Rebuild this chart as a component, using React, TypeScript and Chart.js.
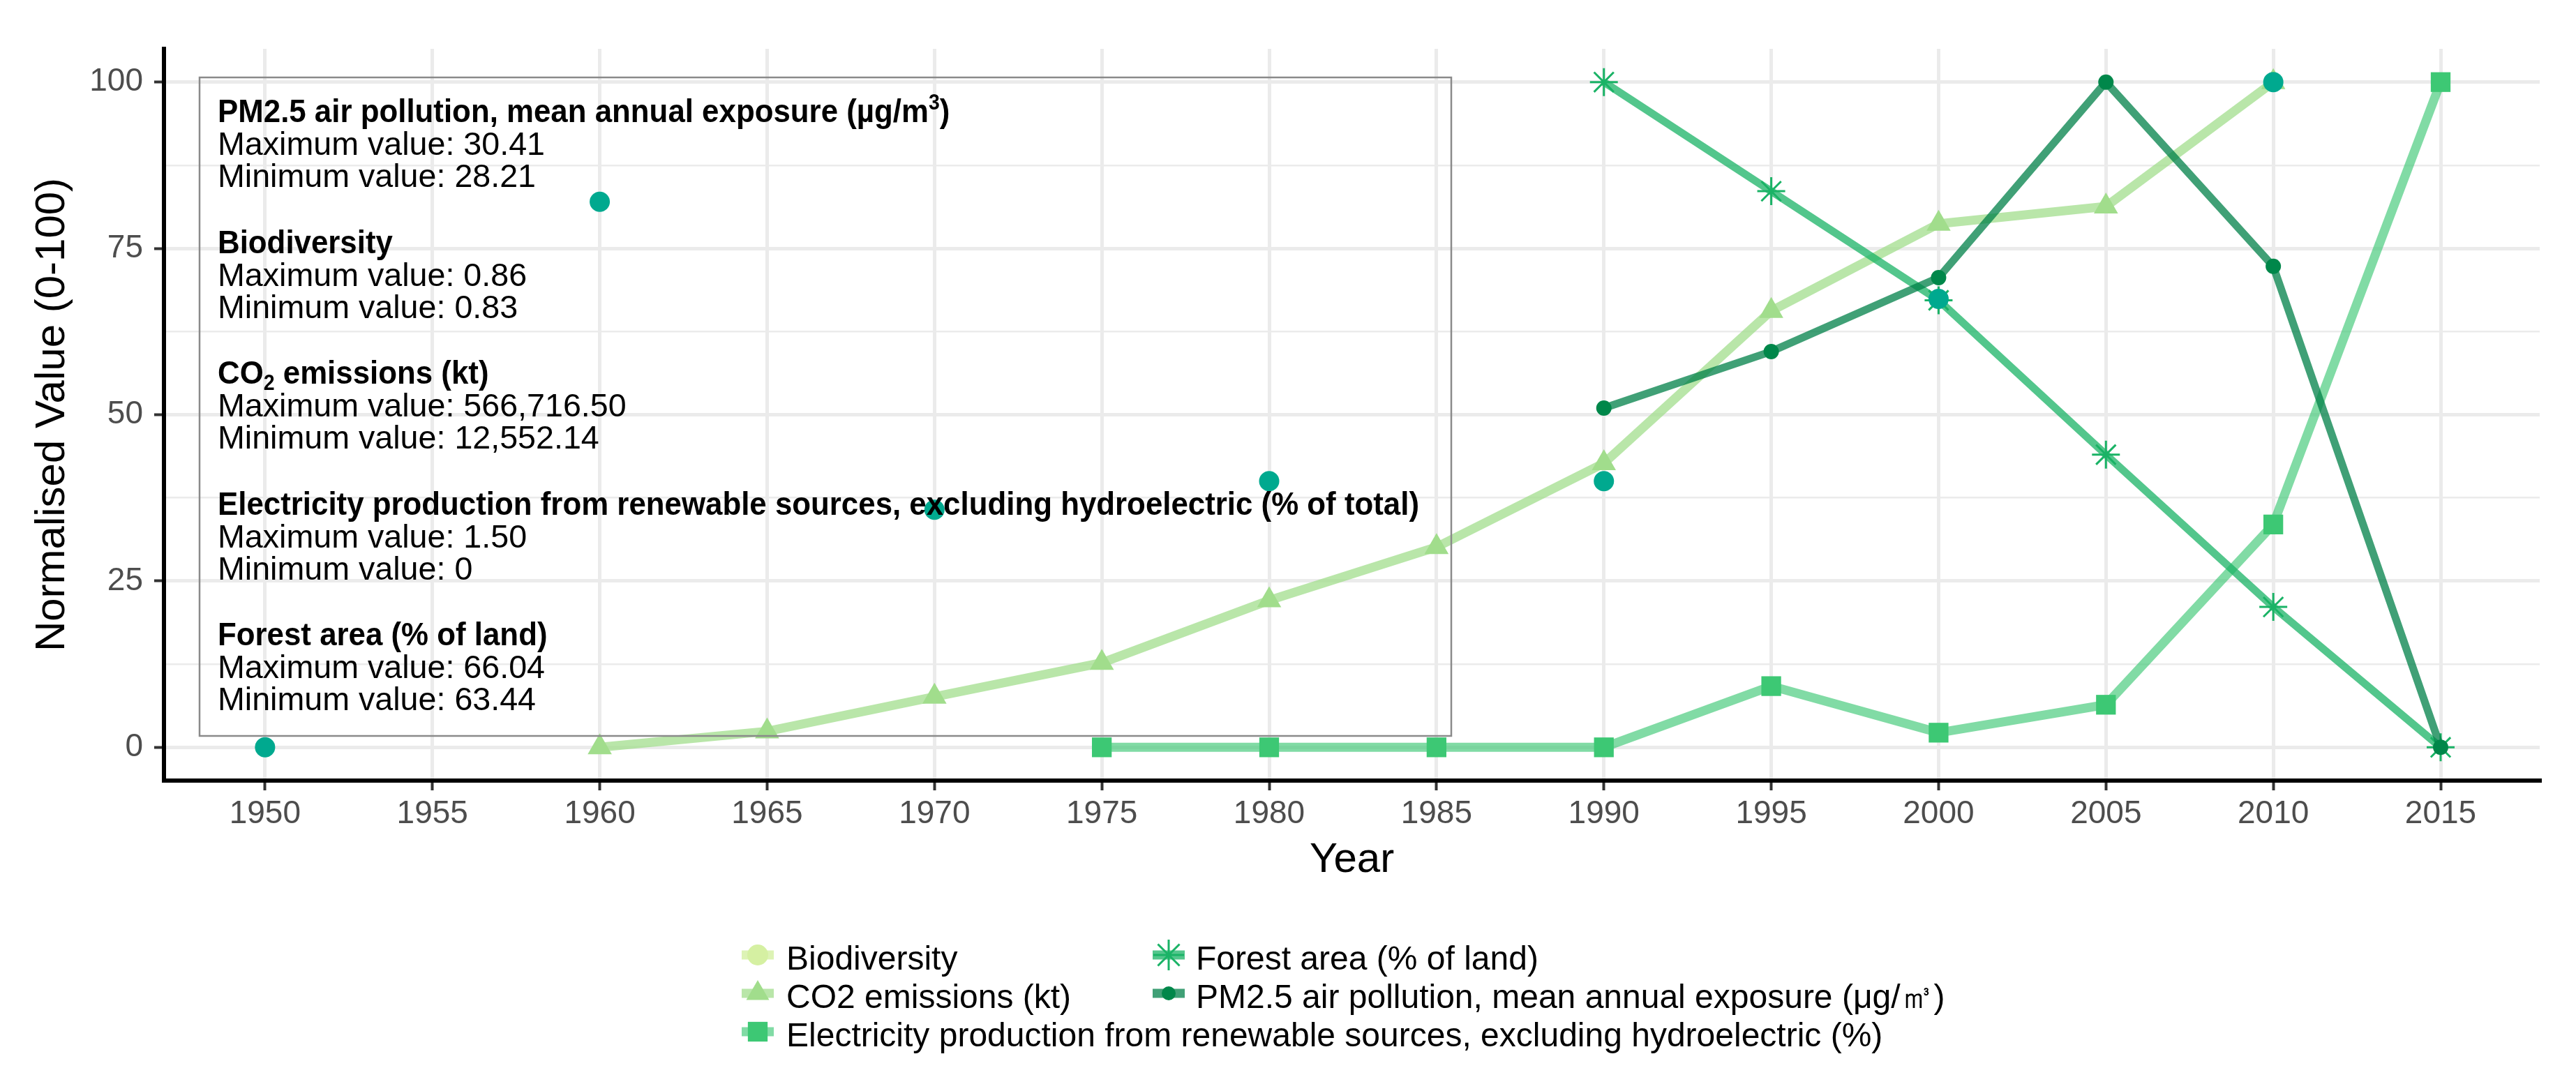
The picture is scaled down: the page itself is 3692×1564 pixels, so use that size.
import React, { useEffect, useRef } from 'react';
import { Chart, registerables } from 'chart.js';
import { drawPoint } from 'chart.js/helpers';

Chart.register(...registerables);

// ---------- data ----------
const xTickYears = [1950, 1955, 1960, 1965, 1970, 1975, 1980, 1985, 1990, 1995, 2000, 2005, 2010, 2015];
const yMajorTicks = [0, 25, 50, 75, 100];
const yMinorTicks = [12.5, 37.5, 62.5, 87.5];

const bioYears = [1950, 1960, 1970, 1980, 1990, 2000, 2010];
const bioValues = [0, 82, 35.7, 40, 40, 67.4, 100];

const co2Years = [1960, 1965, 1970, 1975, 1980, 1985, 1990, 1995, 2000, 2005, 2010];
const co2Values = [0, 2.4, 7.6, 12.7, 22.1, 30.1, 42.7, 65.6, 78.7, 81.3, 100];

const elecYears = [1975, 1980, 1985, 1990, 1995, 2000, 2005, 2010, 2015];
const elecValues = [0, 0, 0, 0, 9.2, 2.2, 6.4, 33.5, 100];

const forestYears = [1990, 1995, 2000, 2005, 2010, 2015];
const forestValues = [100, 83.6, 67.2, 44.0, 21.1, 0];

const pmYears = [1990, 1995, 2000, 2005, 2010, 2015];
const pmValues = [51.0, 59.5, 70.6, 100, 72.3, 0];

const seriesLabels = [
  'Biodiversity',
  'CO2 emissions (kt)',
  'Electricity production from renewable sources, excluding hydroelectric (%)',
  'Forest area (% of land)',
  'PM2.5 air pollution, mean annual exposure (μg/㎥)',
];

const boxTitles = [
  'PM2.5 air pollution, mean annual exposure (µg/m³)',
  'Biodiversity',
  'CO₂ emissions (kt)',
  'Electricity production from renewable sources, excluding hydroelectric (% of total)',
  'Forest area (% of land)',
];
const boxMaxValues = ['30.41', '0.86', '566,716.50', '1.50', '66.04'];
const boxMinValues = ['28.21', '0.83', '12,552.14', '0', '63.44'];

// ---------- styles ----------
const FONT = "'Liberation Sans', Arial, Helvetica, sans-serif";
const bioColor = '#00A98F';
const bioKeyColor = '#d5f0a2';
const co2Color = '#a1dd8c';
const co2Line = 'rgba(161,221,140,0.75)';
const elecColor = '#3dc874';
const elecLine = 'rgba(61,200,116,0.65)';
const forestColor = '#1ab366';
const forestLine = 'rgba(26,179,102,0.75)';
const pmColor = '#00874a';
const pmLine = 'rgba(0,128,72,0.75)';

const toPts = (xs: number[], ys: number[]) => xs.map((x, i) => ({ x, y: ys[i] }));

function drawRich(ctx: CanvasRenderingContext2D, text: string, x: number, y: number, size: number, bold: boolean, sx: number) {
  const parts = text.split(/([₂³])/);
  let cx = x;
  for (const p of parts) {
    if (!p) continue;
    let t = p, s = size, dy = 0;
    if (p === '₂') { t = '2'; s = size * 0.65; dy = size * 0.2; }
    if (p === '³') { t = '3'; s = size * 0.65; dy = -size * 0.38; }
    ctx.font = `${bold ? 'bold ' : ''}${s}px ${FONT}`;
    ctx.save();
    ctx.translate(cx, y + dy);
    ctx.scale(sx, 1);
    ctx.fillText(t, 0, 0);
    ctx.restore();
    cx += ctx.measureText(t).width * sx;
  }
}

const boxPlugin = {
  id: 'infoBox',
  afterDatasetsDraw(chart: any) {
    const ctx: CanvasRenderingContext2D = chart.ctx;
    const ca = chart.chartArea;
    const bx = ca.left + 51, by = ca.top + 41, bw = 1794, bh = 944;
    ctx.save();
    ctx.strokeStyle = '#8a8a8a';
    ctx.lineWidth = 2.5;
    ctx.strokeRect(bx, by, bw, bh);
    ctx.fillStyle = '#000';
    ctx.textBaseline = 'alphabetic';
    ctx.textAlign = 'left';
    const size = 47;
    ctx.font = `bold ${size}px ${FONT}`;
    const sxB = 1722 / ctx.measureText(boxTitles[3]).width;
    ctx.font = `${size}px ${FONT}`;
    const sxR = 469 / ctx.measureText('Maximum value: 30.41').width;
    const tx = bx + 26;
    for (let b = 0; b < boxTitles.length; b++) {
      const base = by + 64 + b * 187.5;
      drawRich(ctx, boxTitles[b], tx, base, size, true, sxB);
      drawRich(ctx, 'Maximum value: ' + boxMaxValues[b], tx, base + 47, size, false, sxR);
      drawRich(ctx, 'Minimum value: ' + boxMinValues[b], tx, base + 93, size, false, sxR);
    }
    ctx.restore();
  },
};

const legendPlugin = {
  id: 'customLegend',
  afterDraw(chart: any) {
    const ctx: CanvasRenderingContext2D = chart.ctx;
    const keys = [
      { style: 'circle', r: 15, fill: bioKeyColor, line: 'rgba(213,240,162,0.8)', bw: 0 },
      { style: 'triangle', r: 19, fill: co2Color, line: co2Line, bw: 0 },
      { style: 'rect', r: 20, fill: elecColor, line: elecLine, bw: 0 },
      { style: 'star', r: 22, fill: forestColor, line: forestLine, bw: 3 },
      { style: 'circle', r: 10, fill: pmColor, line: pmLine, bw: 0 },
    ];
    const pos = [
      { kx: 1086, tx: 1127, ky: 1369, ty: 1390 },
      { kx: 1086, tx: 1127, ky: 1424, ty: 1445 },
      { kx: 1086, tx: 1127, ky: 1479, ty: 1500 },
      { kx: 1675, tx: 1714, ky: 1369, ty: 1390 },
      { kx: 1675, tx: 1714, ky: 1424, ty: 1445 },
    ];
    ctx.save();
    for (let i = 0; i < keys.length; i++) {
      const k = keys[i], p = pos[i];
      ctx.strokeStyle = k.line;
      ctx.lineWidth = 13;
      ctx.beginPath();
      ctx.moveTo(p.kx - 23, p.ky);
      ctx.lineTo(p.kx + 23, p.ky);
      ctx.stroke();
      ctx.fillStyle = k.fill;
      ctx.strokeStyle = k.fill;
      ctx.lineWidth = k.bw;
      drawPoint(ctx, { pointStyle: k.style as any, radius: k.r, rotation: 0, borderWidth: k.bw } as any, p.kx, p.ky);
      ctx.fillStyle = '#000';
      ctx.font = `48px ${FONT}`;
      ctx.textAlign = 'left';
      ctx.textBaseline = 'alphabetic';
      ctx.fillText(seriesLabels[i], p.tx, p.ty);
    }
    ctx.restore();
  },
};

export default function App() {
  const ref = useRef<HTMLCanvasElement>(null);
  useEffect(() => {
    const canvas = ref.current!;
    Chart.defaults.font.family = FONT;
    const chart = new Chart(canvas, {
      type: 'line',
      data: {
        datasets: [
          {
            label: seriesLabels[0],
            data: toPts(bioYears, bioValues),
            showLine: false,
            pointRadius: 14.5,
            pointBackgroundColor: bioColor,
            pointBorderWidth: 0,
            borderColor: bioColor,
            order: 0,
          },
          {
            label: seriesLabels[4],
            data: toPts(pmYears, pmValues),
            borderColor: pmLine,
            borderWidth: 11,
            pointRadius: 11,
            pointBackgroundColor: pmColor,
            pointBorderWidth: 0,
            tension: 0,
            order: 1,
          },
          {
            label: seriesLabels[3],
            data: toPts(forestYears, forestValues),
            borderColor: forestLine,
            borderWidth: 11,
            pointStyle: 'star',
            pointRadius: 20,
            pointBorderColor: forestColor,
            pointBorderWidth: 3,
            tension: 0,
            order: 2,
          },
          {
            label: seriesLabels[2],
            data: toPts(elecYears, elecValues),
            borderColor: elecLine,
            borderWidth: 13,
            pointStyle: 'rect',
            pointRadius: 20,
            pointBackgroundColor: elecColor,
            pointBorderWidth: 0,
            tension: 0,
            order: 3,
          },
          {
            label: seriesLabels[1],
            data: toPts(co2Years, co2Values),
            borderColor: co2Line,
            borderWidth: 13,
            pointStyle: 'triangle',
            pointRadius: 20,
            pointBackgroundColor: co2Color,
            pointBorderWidth: 0,
            tension: 0,
            order: 4,
          },
        ] as any,
      },
      options: {
        animation: false,
        responsive: false,
        devicePixelRatio: 1,
        events: [],
        layout: { padding: { top: 70, right: 52, left: 0, bottom: 0 } },
        plugins: { legend: { display: false }, tooltip: { enabled: false } },
        scales: {
          x: {
            type: 'linear',
            min: 1946.98,
            max: 2017.96,
            afterBuildTicks: (s: any) => { s.ticks = xTickYears.map((v) => ({ value: v })); },
            afterFit: (s: any) => { s.height = 445; },
            grid: { color: '#EBEBEB', lineWidth: 5, drawTicks: true, tickLength: 14, tickColor: '#333333', tickWidth: 4 },
            border: { display: true, color: '#000000', width: 6 },
            ticks: {
              color: '#4D4D4D',
              font: { size: 46 },
              padding: 7,
              maxRotation: 0,
              autoSkip: false,
              callback: (v: any) => String(v),
            },
            title: { display: true, text: 'Year', color: '#000000', font: { size: 60 }, padding: { top: 0, bottom: 295 } },
          },
          y: {
            type: 'linear',
            min: -5,
            max: 105,
            afterBuildTicks: (s: any) => {
              s.ticks = [...yMajorTicks, ...yMinorTicks].sort((a, b) => a - b).map((v) => ({ value: v }));
            },
            afterFit: (s: any) => { s.width = 235; },
            grid: {
              color: '#EBEBEB',
              lineWidth: (c: any) => (yMajorTicks.includes(c.tick?.value) ? 5 : 2.5),
              drawTicks: true,
              tickLength: 14,
              tickWidth: 4,
              tickColor: (c: any) => (yMajorTicks.includes(c.tick?.value) ? '#333333' : 'rgba(0,0,0,0)'),
            },
            border: { display: true, color: '#000000', width: 6 },
            ticks: {
              color: '#4D4D4D',
              font: { size: 46 },
              padding: 16,
              autoSkip: false,
              callback: (v: any) => (yMajorTicks.includes(v) ? String(v) : ''),
            },
            title: { display: true, text: 'Normalised Value (0-100)', color: '#000000', font: { size: 60 }, padding: { top: 39, bottom: 0 } },
          },
        },
      } as any,
      plugins: [boxPlugin, legendPlugin],
    });
    return () => chart.destroy();
  }, []);
  return (
    <div style={{ position: 'absolute', left: 0, top: 0, width: 3692, height: 1564, background: '#ffffff' }}>
      <canvas ref={ref} width={3692} height={1564} style={{ width: 3692, height: 1564, display: 'block' }} />
    </div>
  );
}
